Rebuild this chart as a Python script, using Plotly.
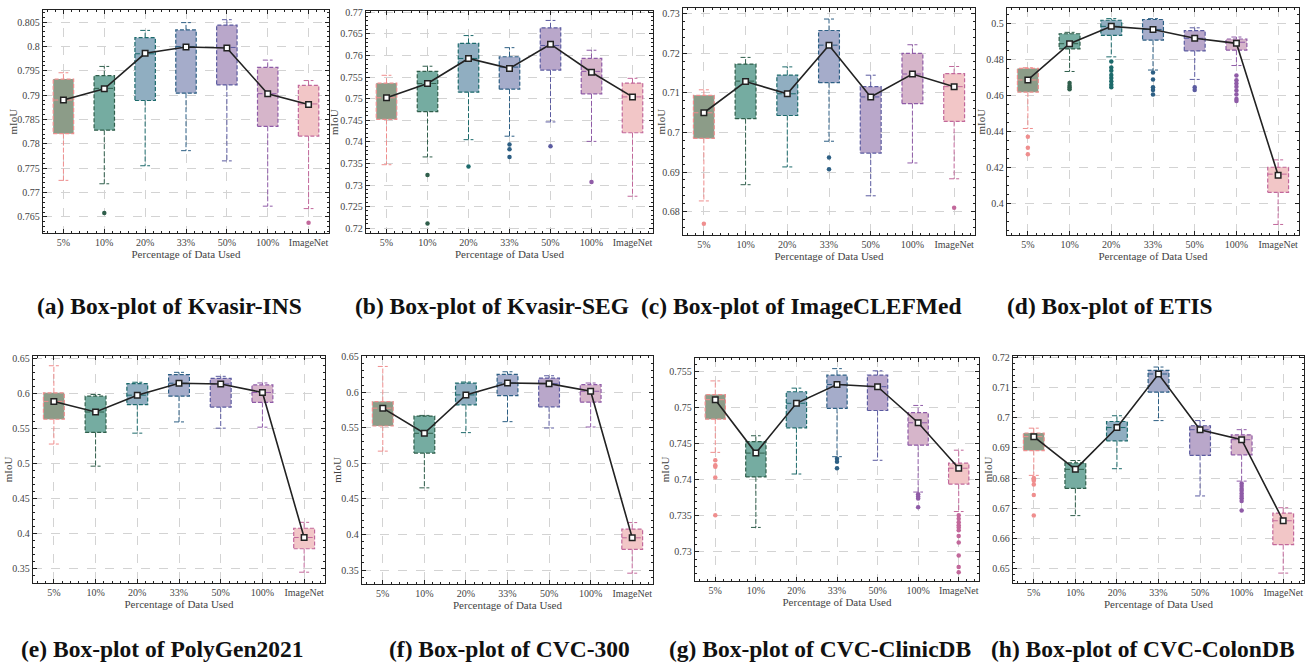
import plotly.graph_objects as go

categories = ["5%", "10%", "20%", "33%", "50%", "100%", "ImageNet"]
fill_colors = ["#8c9c88", "#75aca1", "#90aec1", "#a5acca", "#b9a7ca", "#d6b5ca", "#f2c6c7"]
edge_colors = ["#ef8e8e", "#2f5e4b", "#1c6a6b", "#2d5f84", "#5b5ba0", "#8f5ba7", "#c2689b"]

panel_titles = [
    "(a) Box-plot of Kvasir-INS", "(b) Box-plot of Kvasir-SEG",
    "(c) Box-plot of ImageCLEFMed", "(d) Box-plot of ETIS",
    "(e) Box-plot of PolyGen2021", "(f) Box-plot of CVC-300",
    "(g) Box-plot of CVC-ClinicDB", "(h) Box-plot of CVC-ColonDB",
]
x_title = "Percentage of Data Used"
y_title = "mIoU"

# ---- (a) Kvasir-INS ----
a_q1 = [0.7821, 0.7828, 0.7889, 0.7904, 0.7921, 0.7836, 0.7816]
a_q3 = [0.7933, 0.7940, 0.8018, 0.8034, 0.8044, 0.7957, 0.7920]
a_med = [0.7890, 0.7914, 0.7985, 0.8000, 0.7998, 0.7903, 0.7882]
a_mean = [0.7890, 0.7913, 0.7986, 0.7999, 0.7997, 0.7903, 0.7881]
a_upper = [0.7946, 0.7959, 0.8033, 0.8049, 0.8055, 0.7972, 0.7930]
a_lower = [0.7725, 0.7718, 0.7755, 0.7786, 0.7765, 0.7672, 0.7667]
a_out = [[], [0.7658], [], [], [], [], [0.7638]]
a_ticks = [0.765, 0.77, 0.775, 0.78, 0.785, 0.79, 0.795, 0.8, 0.805]
a_range = [0.7617, 0.8075]

# ---- (b) Kvasir-SEG ----
b_q1 = [0.7452, 0.7470, 0.7515, 0.7522, 0.7566, 0.7511, 0.7421]
b_q3 = [0.7536, 0.7563, 0.7628, 0.7597, 0.7664, 0.7593, 0.7536]
b_med = [0.7502, 0.7535, 0.7593, 0.7573, 0.7623, 0.7563, 0.7504]
b_mean = [0.7502, 0.7535, 0.7593, 0.7570, 0.7626, 0.7561, 0.7504]
b_upper = [0.7554, 0.7575, 0.7646, 0.7618, 0.7681, 0.7612, 0.7547]
b_lower = [0.7347, 0.7365, 0.7405, 0.7413, 0.7446, 0.7401, 0.7274]
b_out = [[], [0.7323, 0.7211], [0.7343], [0.7394, 0.7383, 0.7365], [0.7390], [0.7307], []]
b_ticks = [0.72, 0.725, 0.73, 0.735, 0.74, 0.745, 0.75, 0.755, 0.76, 0.765, 0.77]
b_range = [0.7189, 0.7703]

# ---- (c) ImageCLEFMed ----
c_q1 = [0.6985, 0.7035, 0.7043, 0.7126, 0.6948, 0.7073, 0.7028]
c_q3 = [0.7094, 0.7173, 0.7145, 0.7258, 0.7116, 0.7200, 0.7149]
c_med = [0.7050, 0.7130, 0.7098, 0.7221, 0.7090, 0.7148, 0.7116]
c_mean = [0.7050, 0.7129, 0.7098, 0.7221, 0.7090, 0.7148, 0.7116]
c_upper = [0.7108, 0.7190, 0.7166, 0.7287, 0.7145, 0.7222, 0.7167]
c_lower = [0.6827, 0.6868, 0.6913, 0.6978, 0.6840, 0.6923, 0.6883]
c_out = [[0.6769], [], [], [0.6937, 0.6907], [], [], [0.6810]]
c_ticks = [0.68, 0.69, 0.70, 0.71, 0.72, 0.73]
c_range = [0.6741, 0.7315]

# ---- (d) ETIS ----
d_q1 = [0.4619, 0.4859, 0.4934, 0.4908, 0.4848, 0.4852, 0.4064]
d_q3 = [0.4751, 0.4943, 0.5018, 0.5022, 0.4960, 0.4914, 0.4203]
d_med = [0.4687, 0.4888, 0.4984, 0.4967, 0.4918, 0.4896, 0.4165]
d_mean = [0.4687, 0.4888, 0.4984, 0.4967, 0.4918, 0.4890, 0.4159]
d_upper = [0.4755, 0.4951, 0.5027, 0.5027, 0.4976, 0.4925, 0.4244]
d_lower = [0.4418, 0.4734, 0.4815, 0.4742, 0.4690, 0.4767, 0.3886]
d_out = [
    [0.4372, 0.4311, 0.4275],
    [0.4670, 0.4655, 0.4645, 0.4635],
    [0.4789, 0.4756, 0.4738, 0.4714, 0.4698, 0.4680, 0.4661, 0.4647],
    [0.4729, 0.4690, 0.4647, 0.4632, 0.4606],
    [0.4647, 0.4632],
    [0.4712, 0.4686, 0.4668, 0.4650, 0.4628, 0.4606, 0.4582, 0.4570],
    [],
]
d_ticks = [0.4, 0.42, 0.44, 0.46, 0.48, 0.5]
d_range = [0.3828, 0.5086]

# ---- (e) PolyGen2021 ----
e_q1 = [0.5630, 0.5442, 0.5837, 0.5959, 0.5804, 0.5870, 0.3786]
e_q3 = [0.6006, 0.5959, 0.6138, 0.6265, 0.6213, 0.6119, 0.4078]
e_med = [0.5884, 0.5733, 0.5973, 0.6143, 0.6133, 0.6011, 0.3946]
e_mean = [0.5884, 0.5733, 0.5973, 0.6143, 0.6133, 0.6011, 0.3946]
e_upper = [0.6392, 0.5983, 0.6157, 0.6298, 0.6241, 0.6147, 0.4162]
e_lower = [0.5277, 0.4962, 0.5432, 0.5592, 0.5503, 0.5517, 0.3452]
e_out = [[], [], [], [], [], [], []]
e_ticks = [0.35, 0.4, 0.45, 0.5, 0.55, 0.6, 0.65]
e_range = [0.3301, 0.6533]

# ---- (f) CVC-300 ----
f_q1 = [0.5524, 0.5143, 0.5822, 0.5952, 0.5794, 0.5859, 0.3791]
f_q3 = [0.5868, 0.5664, 0.6128, 0.6249, 0.6198, 0.6105, 0.4074]
f_med = [0.5775, 0.5422, 0.5961, 0.6128, 0.6119, 0.6012, 0.3953]
f_mean = [0.5775, 0.5422, 0.5961, 0.6128, 0.6119, 0.6012, 0.3953]
f_upper = [0.6361, 0.5673, 0.6142, 0.6286, 0.6230, 0.6128, 0.4167]
f_lower = [0.5171, 0.4655, 0.5431, 0.5585, 0.5496, 0.5510, 0.3456]
f_out = [[], [], [], [], [], [], []]
f_ticks = [0.35, 0.4, 0.45, 0.5, 0.55, 0.6, 0.65]
f_range = [0.3307, 0.6510]

# ---- (g) CVC-ClinicDB ----
g_q1 = [0.7484, 0.7404, 0.7472, 0.7499, 0.7496, 0.7448, 0.7394]
g_q3 = [0.7518, 0.7453, 0.7522, 0.7545, 0.7545, 0.7493, 0.7423]
g_med = [0.7511, 0.7437, 0.7506, 0.7532, 0.7529, 0.7479, 0.7416]
g_mean = [0.7511, 0.7437, 0.7506, 0.7532, 0.7529, 0.7479, 0.7416]
g_upper = [0.7537, 0.7461, 0.7527, 0.7554, 0.7551, 0.7503, 0.7441]
g_lower = [0.7438, 0.7334, 0.7408, 0.7432, 0.7427, 0.7383, 0.7356]
g_out = [
    [0.7427, 0.7420, 0.7418, 0.7403, 0.7351],
    [], [],
    [0.7429, 0.7425, 0.7416],
    [],
    [0.7380, 0.7377, 0.7374, 0.7362],
    [0.7351, 0.7346, 0.7341, 0.7337, 0.7334, 0.7330, 0.7322, 0.7313, 0.7295, 0.7279, 0.7272],
]
g_ticks = [0.73, 0.735, 0.74, 0.745, 0.75, 0.755]
g_range = [0.7260, 0.7569]

# ---- (h) CVC-ColonDB ----
h_q1 = [0.6891, 0.6766, 0.6923, 0.7084, 0.6875, 0.6877, 0.6580]
h_q3 = [0.6949, 0.6850, 0.6987, 0.7156, 0.6973, 0.6943, 0.6684]
h_med = [0.6937, 0.6829, 0.6967, 0.7144, 0.6960, 0.6927, 0.6659]
h_mean = [0.6937, 0.6829, 0.6967, 0.7144, 0.6960, 0.6927, 0.6659]
h_upper = [0.6965, 0.6858, 0.7006, 0.7167, 0.6990, 0.6960, 0.6702]
h_lower = [0.6809, 0.6676, 0.6831, 0.6990, 0.6741, 0.6790, 0.6486]
h_out = [
    [0.6800, 0.6796, 0.6791, 0.6779, 0.6744, 0.6676],
    [], [], [], [],
    [0.6782, 0.6774, 0.6765, 0.6758, 0.6749, 0.6741, 0.6733, 0.6724, 0.6693],
    [],
]
h_ticks = [0.65, 0.66, 0.67, 0.68, 0.69, 0.70, 0.71, 0.72]
h_range = [0.6454, 0.7204]

panels = [
    (a_q1, a_q3, a_med, a_mean, a_upper, a_lower, a_out, a_ticks, a_range, 0.001),
    (b_q1, b_q3, b_med, b_mean, b_upper, b_lower, b_out, b_ticks, b_range, 0.001),
    (c_q1, c_q3, c_med, c_mean, c_upper, c_lower, c_out, c_ticks, c_range, 0.002),
    (d_q1, d_q3, d_med, d_mean, d_upper, d_lower, d_out, d_ticks, d_range, 0.005),
    (e_q1, e_q3, e_med, e_mean, e_upper, e_lower, e_out, e_ticks, e_range, 0.01),
    (f_q1, f_q3, f_med, f_mean, f_upper, f_lower, f_out, f_ticks, f_range, 0.01),
    (g_q1, g_q3, g_med, g_mean, g_upper, g_lower, g_out, g_ticks, g_range, 0.001),
    (h_q1, h_q3, h_med, h_mean, h_upper, h_lower, h_out, h_ticks, h_range, 0.002),
]

# layout geometry (pixels)
W, H = 1307, 672
plot_boxes = [
    (43, 329, 5, 230), (366, 653, 6, 230), (683, 975, 3, 232), (1007, 1299, 3, 232),
    (33, 325, 354, 583), (362, 653, 354, 584), (695, 979, 356, 581), (1013, 1304, 354, 583),
]
ylabel_x = [13, 334, 661, 981, 8, 337, 665, 988]
caption_pos = [(169, 304), (492, 304), (801, 304), (1110, 304),
               (162, 650), (509, 650), (820, 650), (1143, 650)]

BW = 0.25   # half box width
CW = 0.12   # half cap width
FONT = "Liberation Serif"
TXT = "#444444"

fig = go.Figure()
layout = dict(
    width=W, height=H, margin=dict(l=0, r=0, t=0, b=0),
    paper_bgcolor="white", plot_bgcolor="white", showlegend=False,
    annotations=[],
)

for k, (q1, q3, med, mean, up, lo, outs, ticks, yr, ydm) in enumerate(panels):
    n = k + 1
    xa = "x" if n == 1 else f"x{n}"
    ya = "y" if n == 1 else f"y{n}"
    for i in range(len(categories)):
        ec = edge_colors[i]
        fig.add_trace(go.Scatter(
            x=[i - BW, i + BW, i + BW, i - BW, i - BW],
            y=[q1[i], q1[i], q3[i], q3[i], q1[i]],
            mode="lines", fill="toself", fillcolor=fill_colors[i],
            line=dict(color=ec, width=1.2, dash="4px,2px"),
            xaxis=xa, yaxis=ya, hoverinfo="skip"))
        fig.add_trace(go.Scatter(
            x=[i - BW, i + BW, None, i, i, None, i, i, None,
               i - CW, i + CW, None, i - CW, i + CW],
            y=[med[i], med[i], None, q3[i], up[i], None, q1[i], lo[i], None,
               up[i], up[i], None, lo[i], lo[i]],
            mode="lines", line=dict(color=ec, width=1.0, dash="5px,2px"),
            xaxis=xa, yaxis=ya, hoverinfo="skip"))
        if outs[i]:
            fig.add_trace(go.Scatter(
                x=[i] * len(outs[i]), y=outs[i], mode="markers",
                marker=dict(color=ec, size=4.5, symbol="circle"),
                xaxis=xa, yaxis=ya, hoverinfo="skip"))
    fig.add_trace(go.Scatter(
        x=list(range(len(categories))), y=mean, mode="lines+markers",
        line=dict(color="#222222", width=1.6),
        marker=dict(symbol="square", size=5.5, color="white",
                    line=dict(color="#222222", width=1.5)),
        xaxis=xa, yaxis=ya, hoverinfo="skip"))

    x0, x1, y0, y1 = plot_boxes[k]
    common = dict(
        showline=True, linecolor="#222222", linewidth=1.3, mirror="allticks",
        ticks="inside", ticklen=4, tickwidth=1, tickcolor="#222222",
        showgrid=True, gridcolor="#d3d3d3", gridwidth=0.8, griddash="dash",
        zeroline=False, tickfont=dict(family=FONT, size=10, color=TXT),
    )
    layout["xaxis" if n == 1 else f"xaxis{n}"] = dict(
        common, domain=[x0 / W, x1 / W], anchor=ya, range=[-0.5, 6.5],
        tickmode="array", tickvals=list(range(len(categories))), ticktext=categories,
        minor=dict(ticks="inside", ticklen=2, tickcolor="#222222", dtick=0.2, tick0=0, showgrid=False),
        title=dict(text=x_title, standoff=0,
                   font=dict(family=FONT, size=11, color=TXT)),
    )
    layout["yaxis" if n == 1 else f"yaxis{n}"] = dict(
        common, domain=[1 - y1 / H, 1 - y0 / H], anchor=xa, range=yr,
        tickmode="array", tickvals=ticks, ticktext=[f"{v:g}" for v in ticks],
        minor=dict(ticks="inside", ticklen=2, tickcolor="#222222", dtick=ydm, tick0=ticks[0], showgrid=False),
    )
    layout["annotations"].append(dict(
        text=y_title, textangle=-90, x=ylabel_x[k] / W, y=1 - ((y0 + y1) / 2) / H,
        xref="paper", yref="paper", showarrow=False, xanchor="center", yanchor="middle",
        font=dict(family=FONT, size=11, color=TXT)))
    cx, cy = caption_pos[k]
    layout["annotations"].append(dict(
        text=f"<b>{panel_titles[k]}</b>", x=cx / W, y=1 - cy / H,
        xref="paper", yref="paper", showarrow=False, xanchor="center", yanchor="middle",
        font=dict(family=FONT, size=23.5, color="#111111")))

fig.update_layout(**layout)
fig.write_html("out.html", config={"displayModeBar": False},
               post_script="document.body.style.margin='0px';document.body.style.overflow='hidden';")
